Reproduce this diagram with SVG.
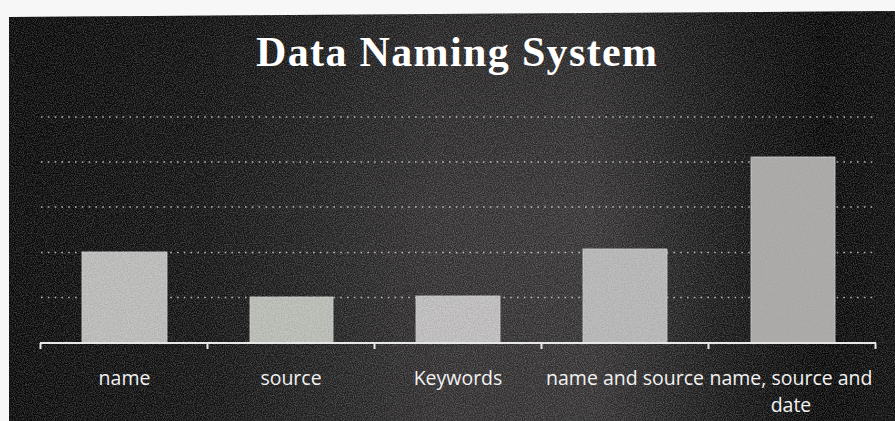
<svg xmlns="http://www.w3.org/2000/svg" width="895" height="421" viewBox="0 0 895 421">
  <defs>
    <linearGradient id="bg" x1="0" y1="0" x2="1" y2="0">
      <stop offset="0" stop-color="#070707"/>
      <stop offset="0.22" stop-color="#111111"/>
      <stop offset="0.48" stop-color="#302e2e"/>
      <stop offset="0.66" stop-color="#343232"/>
      <stop offset="0.82" stop-color="#161515"/>
      <stop offset="0.92" stop-color="#060606"/>
      <stop offset="1" stop-color="#0c0c0c"/>
    </linearGradient>
    <linearGradient id="vshade" x1="0" y1="0" x2="0" y2="1">
      <stop offset="0" stop-color="#000" stop-opacity="0.3"/>
      <stop offset="0.5" stop-color="#000" stop-opacity="0"/>
      <stop offset="1" stop-color="#000" stop-opacity="0.05"/>
    </linearGradient>
    <filter id="grain" x="0" y="0" width="100%" height="100%">
      <feTurbulence type="fractalNoise" baseFrequency="0.9" numOctaves="2" seed="3" result="n"/>
      <feColorMatrix in="n" type="matrix" values="0 0 0 0 1  0 0 0 0 1  0 0 0 0 1  0 0 0 -2.2 1.45"/>
    </filter>
    <filter id="bargrain" x="0" y="0" width="100%" height="100%">
      <feTurbulence type="fractalNoise" baseFrequency="0.7" numOctaves="2" seed="7" result="n"/>
      <feColorMatrix in="n" type="matrix" values="0 0 0 0 0.35  0 0 0 0 0.35  0 0 0 0 0.35  0 0 0 -2 1.35" result="d"/>
      <feComposite in="d" in2="SourceGraphic" operator="in"/>
    </filter>
    <style>
      .grid { stroke: #e6e6e6; stroke-width: 1.6; stroke-dasharray: 1.6 5.2; stroke-opacity: 0.75; fill: none; }
      .axis { stroke: #e8e8e8; stroke-width: 2; fill: none; }
      .bar { stroke: #d8d8d8; stroke-width: 0.8; }
      .lbl { font-family: "Open Sans", "Noto Sans", sans-serif; font-size: 19.5px; fill: #f2f2f2; text-anchor: middle; }
      .title { font-family: "Liberation Serif", "Times New Roman", serif; font-weight: bold; font-size: 42px; fill: #ffffff; }
    </style>
  </defs>

  <!-- photo background -->
  <rect x="0" y="0" width="895" height="421" fill="#f7f7f7"/>
  <polygon points="9,17 895,11 895,421 9,421" fill="url(#bg)"/>
  <polygon points="9,17 895,11 895,421 9,421" fill="url(#vshade)"/>
  <rect x="9" y="11" width="886" height="410" filter="url(#grain)" opacity="0.22"/>

  <text class="title" x="256" y="66" textLength="401" lengthAdjust="spacing">Data Naming System</text>

  <g id="connectors">
    <line class="grid" x1="41" y1="117" x2="876" y2="117"/>
    <line class="grid" x1="41" y1="162" x2="876" y2="162"/>
    <line class="grid" x1="41" y1="207" x2="876" y2="207"/>
    <line class="grid" x1="41" y1="252.5" x2="876" y2="252.5"/>
    <line class="grid" x1="41" y1="297.5" x2="876" y2="297.5"/>
  </g>

  <g id="bar-name">
    <rect class="bar" x="82" y="252" width="85" height="91" fill="#c4c4c2"/>
    <rect x="82" y="252" width="85" height="91" fill="#c4c4c2" filter="url(#bargrain)" opacity="0.6"/>
    <text class="lbl" x="124.5" y="385">name</text>
  </g>
  <g id="bar-source">
    <rect class="bar" x="250" y="297" width="83" height="46" fill="#c2c5bd"/>
    <rect x="250" y="297" width="83" height="46" fill="#c2c5bd" filter="url(#bargrain)" opacity="0.6"/>
    <text class="lbl" x="291" y="385">source</text>
  </g>
  <g id="bar-keywords">
    <rect class="bar" x="416" y="296" width="84" height="47" fill="#c8c6c6"/>
    <rect x="416" y="296" width="84" height="47" fill="#c8c6c6" filter="url(#bargrain)" opacity="0.6"/>
    <text class="lbl" x="458" y="385">Keywords</text>
  </g>
  <g id="bar-name-and-source">
    <rect class="bar" x="583" y="249" width="84" height="94" fill="#bebebe"/>
    <rect x="583" y="249" width="84" height="94" fill="#bebebe" filter="url(#bargrain)" opacity="0.6"/>
    <text class="lbl" x="625" y="385">name and source</text>
  </g>
  <g id="bar-name-source-date">
    <rect class="bar" x="751" y="157" width="84" height="186" fill="#b0acac"/>
    <rect x="751" y="157" width="84" height="186" fill="#b0acac" filter="url(#bargrain)" opacity="0.6"/>
    <text class="lbl" x="791" y="385">name, source and</text>
    <text class="lbl" x="791" y="412">date</text>
  </g>

  <g id="axis">
    <line class="axis" x1="40" y1="343" x2="876" y2="343"/>
    <path class="axis" d="M40.5 343v6M207.5 343v6M374.5 343v6M541.5 343v6M708.5 343v6M875.5 343v6"/>
  </g>
</svg>
